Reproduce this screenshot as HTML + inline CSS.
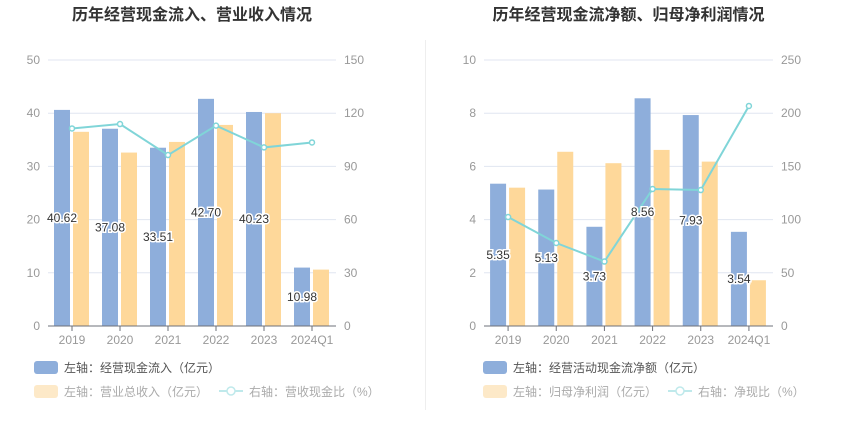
<!DOCTYPE html>
<html><head><meta charset="utf-8"><style>
body{margin:0;background:#fff;width:850px;height:437px;overflow:hidden;font-family:"Liberation Sans","Noto Sans CJK SC",sans-serif}
svg text{font-family:"Liberation Sans","Noto Sans CJK SC",sans-serif}
</style></head><body>
<svg id="s" width="850" height="437">
<line x1="425.5" y1="40" x2="425.5" y2="410" stroke="#eee"/>
</svg>
<script>
const categories=["2019","2020","2021","2022","2023","2024Q1"];
const leftBlue=[40.62,37.08,33.51,42.70,40.23,10.98];
const leftOrange=[36.5,32.6,34.6,37.8,40.0,10.6];
const leftLine=[111.4,113.9,96.4,113,100.7,103.5];
const leftTicksL=[0,10,20,30,40,50];
const leftTicksR=[0,30,60,90,120,150];
const rightBlue=[5.35,5.13,3.73,8.56,7.93,3.54];
const rightOrange=[5.2,6.55,6.12,6.62,6.18,1.72];
const rightLine=[102.4,78,60.6,128.8,127.8,206.8];
const rightTicksL=[0,2,4,6,8,10];
const rightTicksR=[0,50,100,150,200,250];
const NS="http://www.w3.org/2000/svg";
const svg=document.getElementById('s');
function mk(t,a,txt){const e=document.createElementNS(NS,t);for(const k in a)e.setAttribute(k,a[k]);if(txt!=null)e.textContent=txt;svg.appendChild(e);return e;}
function chart(o){
  const x0=o.x0,x1=o.x1,yT=60,yB=326,band=(x1-x0)/categories.length;
  const yL=v=>yB-(v/o.tl[o.tl.length-1])*(yB-yT);
  const yR=v=>yB-(v/o.tr[o.tr.length-1])*(yB-yT);
  let t=mk('text',{x:(x0+x1)/2,y:20,'text-anchor':'middle','font-size':16,'font-weight':'bold',fill:'#333'},o.title);
  
  
  o.tl.forEach((v,i)=>{
    const y=yL(v);
    if(i>0){let g=mk('line',{x1:x0,x2:x1,y1:y,y2:y,stroke:'#e0e6f1'});}
    let a=mk('text',{x:x0-8,y:y+4,'text-anchor':'end','font-size':12,fill:'#999'},v);
    
    
    let b=mk('text',{x:x1+8,y:yR(o.tr[i])+4,'font-size':12,fill:'#999'},o.tr[i]);
    
    
  });
  categories.forEach((c,i)=>{
    const cx=x0+band*(i+0.5);
    let b=mk('rect',{x:cx-18,y:yL(o.blue[i]),width:16,height:yB-yL(o.blue[i]),fill:'#8eaedb'});
    
    
    let r=mk('rect',{x:cx+1,y:yL(o.orange[i]),width:16,height:yB-yL(o.orange[i]),fill:'#fed89a'});
    
    
    let tk=mk('line',{x1:cx,x2:cx,y1:yB,y2:yB+5,stroke:'#6e7079'});
    
    
    let xl=mk('text',{x:cx,y:yB+18,'text-anchor':'middle','font-size':12,fill:'#999'},c);
    
    
  });
  let ax=mk('line',{x1:x0,x2:x1,y1:yB,y2:yB,stroke:'#6e7079'});
  
  
  const pts=o.line.map((v,i)=>[x0+band*(i+0.5),yR(v)]);
  let pl=mk('polyline',{points:pts.map(p=>p.join(',')).join(' '),fill:'none',stroke:'#80d5d8','stroke-width':2});
  
  
  pts.forEach(p=>{let c=mk('circle',{cx:p[0],cy:p[1],r:2.5,fill:'#fff',stroke:'#80d5d8','stroke-width':1.5});});
  categories.forEach((c,i)=>{
    const cx=x0+band*(i+0.5)-10,y=(yL(o.blue[i])+yB)/2+4;
    let l=mk('text',{x:cx,y:y,'text-anchor':'middle','font-size':12,fill:'#333',stroke:'#fff','stroke-width':3,'paint-order':'stroke'},o.blue[i].toFixed(2));
    
    
  });
  const lx=o.lx;
  let r1=mk('rect',{x:lx,y:361,width:24,height:13,rx:3,fill:'#8eaedb'});
  let t1=mk('text',{x:lx+30,y:372,'font-size':12,fill:'#555'},o.l1);
  let r2=mk('rect',{x:lx,y:385,width:24,height:13,rx:3,fill:'#fde9c8'});
  let t2=mk('text',{x:lx+30,y:396,'font-size':12,fill:'#aaa'},o.l2);
  let ll=mk('line',{x1:lx+185,x2:lx+209,y1:391,y2:391,stroke:'#bfe9eb','stroke-width':2});
  let lc=mk('circle',{cx:lx+197,cy:391,r:4,fill:'#fff',stroke:'#bfe9eb','stroke-width':1.5});
  let t3=mk('text',{x:lx+215,y:396,'font-size':12,fill:'#aaa'},o.l3);
}
chart({x0:48,x1:336,tl:leftTicksL,tr:leftTicksR,blue:leftBlue,orange:leftOrange,line:leftLine,title:'历年经营现金流入、营业收入情况',lx:34,l1:'左轴：经营现金流入（亿元）',l2:'左轴：营业总收入（亿元）',l3:'右轴：营收现金比（%）'});
chart({x0:484,x1:773,tl:rightTicksL,tr:rightTicksR,blue:rightBlue,orange:rightOrange,line:rightLine,title:'历年经营现金流净额、归母净利润情况',lx:483,l1:'左轴：经营活动现金流净额（亿元）',l2:'左轴：归母净利润（亿元）',l3:'右轴：净现比（%）'});
</script>
</body></html>
